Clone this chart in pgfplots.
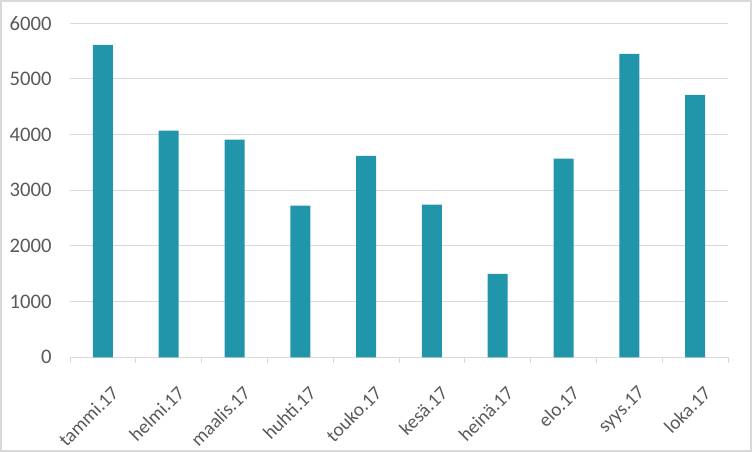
\documentclass[border=0pt]{standalone}
\usepackage{fontspec}
\setmainfont{Carlito}
\usepackage{pgfplots}
\pgfplotsset{compat=1.18}
\definecolor{barcol}{HTML}{2196AB}
\definecolor{gridcol}{HTML}{D9D9D9}
\definecolor{labcol}{HTML}{595959}
\definecolor{framecol}{HTML}{D9D9D9}

\begin{document}
\begin{tikzpicture}
\useasboundingbox (0,0) rectangle (564pt,339pt);
\draw[framecol, line width=1.2pt] (0.6pt,0.6pt) rectangle (563.4pt,338.4pt);
\begin{axis}[
    at={(52.5pt,71pt)}, anchor=south west,
    scale only axis,
    width=493.5pt, height=250.6pt,
    xmin=-0.5, xmax=9.5,
    ymin=0, ymax=6000,
    ytick={0,1000,...,6000},
    xtick={0,...,9},
    xticklabels={tammi.17,helmi.17,maalis.17,huhti.17,touko.17,kesä.17,heinä.17,elo.17,syys.17,loka.17},
    minor xtick={-0.5,0.5,...,9.5},
    major x tick style={draw=none},
    minor x tick style={gridcol, line width=0.75pt},
    minor tick length=4pt,
    tick align=outside,
    ytick style={draw=none},
    ymajorgrids,
    grid style={gridcol, line width=0.75pt},
    axis x line*=bottom,
    axis y line*=left,
    y axis line style={draw=none},
    x axis line style={gridcol, line width=0.75pt, -},
    tick label style={text=labcol},
    yticklabel style={font=\fontsize{15.5}{18}\selectfont, xshift=-6pt},
    xticklabel style={font=\fontsize{14.5}{17}\selectfont, rotate=45, anchor=north east, xshift=-4pt, yshift=-12pt},
    /pgf/number format/1000 sep={},
    /pgf/number format/assume math mode=true,
    ybar, bar width=15pt,
]
\addplot[fill=barcol, draw=none] coordinates {
    (0,5610) (1,4070) (2,3910) (3,2723) (4,3616)
    (5,2741) (6,1497) (7,3567) (8,5447) (9,4711)
};
\end{axis}
\end{tikzpicture}
\end{document}
